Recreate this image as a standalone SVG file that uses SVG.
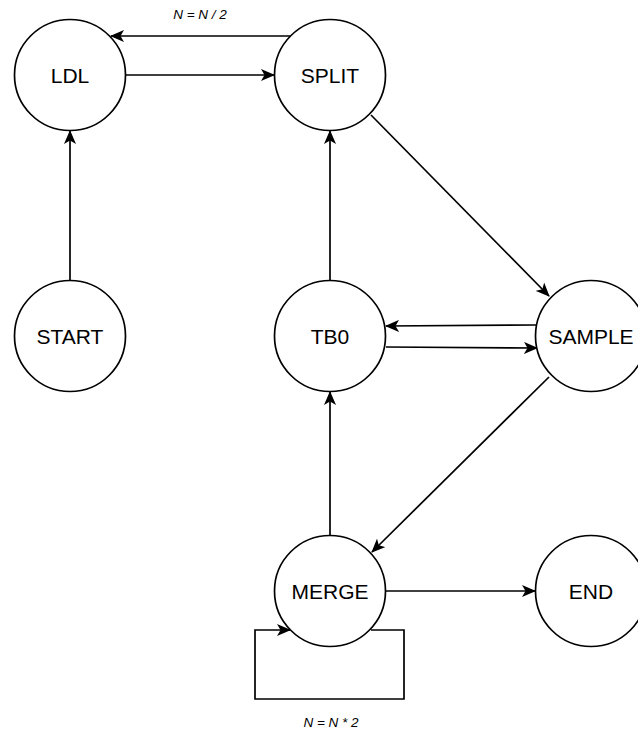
<svg xmlns="http://www.w3.org/2000/svg" width="638" height="731" viewBox="0 0 638 731">
  <style>
    .node circle { fill: #ffffff; stroke: #000000; stroke-width: 1.7; }
    .node text { font-family: "Liberation Sans", Arial, sans-serif; font-size: 21px; fill: #000000; text-anchor: middle; dominant-baseline: central; }
    .edge { fill: none; stroke: #000000; stroke-width: 1.7; marker-end: url(#arrow); }
    .label { font-family: "Liberation Sans", Arial, sans-serif; font-size: 13.5px; font-style: italic; fill: #000000; text-anchor: middle; }
  </style>
  <defs>
    <marker id="arrow" viewBox="0 0 14 12" refX="13" refY="6" markerWidth="14" markerHeight="12" markerUnits="userSpaceOnUse" orient="auto">
      <path d="M0,0 L14,6 L0,12 L3.5,6 Z" fill="#000000"/>
    </marker>
  </defs>
  <rect width="638" height="731" fill="#ffffff"/>

  <g id="connectors">
    <!-- SPLIT -> LDL -->
    <path class="edge" d="M290,36 L111,36"/>
    <!-- LDL -> SPLIT -->
    <path class="edge" d="M125,75 L274,75"/>
    <!-- START -> LDL -->
    <path class="edge" d="M70,281 L70,131"/>
    <!-- TB0 -> SPLIT -->
    <path class="edge" d="M330,281 L330,131"/>
    <!-- SPLIT -> SAMPLE -->
    <path class="edge" d="M371,115 L549,296"/>
    <!-- SAMPLE -> TB0 -->
    <path class="edge" d="M536,325 L386,326"/>
    <!-- TB0 -> SAMPLE -->
    <path class="edge" d="M386,347 L537,348"/>
    <!-- SAMPLE -> MERGE -->
    <path class="edge" d="M549,377 L372,552"/>
    <!-- MERGE -> TB0 -->
    <path class="edge" d="M330,536 L330,392"/>
    <!-- MERGE -> END -->
    <path class="edge" d="M386,591 L535,591"/>
    <!-- MERGE self loop -->
    <path class="edge" d="M371,630 L404,630 L404,699 L255,699 L255,630 L290,630"/>
    <text class="label" x="200" y="19">N = N / 2</text>
    <text class="label" x="331" y="727">N = N * 2</text>
  </g>

  <g id="LDL" class="node"><circle cx="70" cy="75" r="55.5"/><text x="70" y="75">LDL</text></g>
  <g id="SPLIT" class="node"><circle cx="330" cy="75" r="55.5"/><text x="330" y="75">SPLIT</text></g>
  <g id="START" class="node"><circle cx="70" cy="336" r="55.5"/><text x="70" y="336">START</text></g>
  <g id="TB0" class="node"><circle cx="330" cy="336" r="55.5"/><text x="330" y="336">TB0</text></g>
  <g id="SAMPLE" class="node"><circle cx="591" cy="336" r="55.5"/><text x="591" y="336">SAMPLE</text></g>
  <g id="MERGE" class="node"><circle cx="330" cy="591" r="55.5"/><text x="330" y="591">MERGE</text></g>
  <g id="END" class="node"><circle cx="591" cy="591" r="55.5"/><text x="591" y="591">END</text></g>
</svg>
